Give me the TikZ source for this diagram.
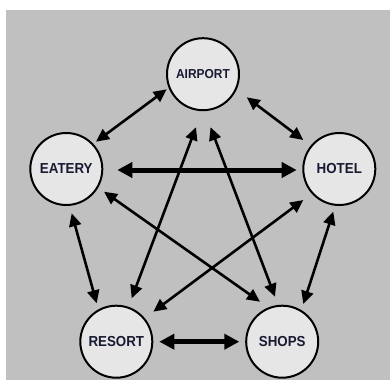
\documentclass[tikz,border=0pt]{standalone}
\usepackage{fontspec}
\setmainfont[FakeStretch=0.92]{Liberation Sans}
\usetikzlibrary{arrows.meta}
\definecolor{panel}{RGB}{192,192,192}
\definecolor{placefill}{RGB}{230,230,230}
\definecolor{labelink}{RGB}{24,26,50}
\begin{document}
\begin{tikzpicture}[x=1pt,y=1pt,
  place/.style={circle,draw=black,line width=2pt,fill=placefill,
    minimum size=72pt,inner sep=0pt,text=labelink,
    font=\fontsize{14.5}{16}\selectfont\bfseries},
  link/.style={line width=2.6pt,
    {Triangle[length=13pt,width=12pt]}-{Triangle[length=13pt,width=12pt]}},
  mainlink/.style={line width=5pt,
    {Triangle[length=15pt,width=15pt]}-{Triangle[length=15pt,width=15pt]}}]
  \useasboundingbox (0,0) rectangle (390,-385);
  \fill[panel] (6,-10) rectangle (390,-380);

  % the five places
  \node[place,font=\fontsize{13}{15}\selectfont\bfseries] (airport) at (203,-74.2) {AIRPORT};
  \node[place] (eatery) at (66.3,-169) {EATERY};
  \node[place] (hotel)  at (339.3,-169) {HOTEL};
  \node[place] (resort) at (116.3,-341.7) {RESORT};
  \node[place] (shops)  at (282.2,-341.7) {SHOPS};

  % outer ring
  \draw[link] ([shift={(29.7,27.3)}]eatery.center) -- ([shift={(-36.3,-15.1)}]airport.center);
  \draw[link] ([shift={(43.7,-23.1)}]airport.center) -- ([shift={(-36,29)}]hotel.center);
  \draw[link] ([shift={(5.4,-44.3)}]eatery.center) -- ([shift={(-19.6,38.4)}]resort.center);
  \draw[link] ([shift={(-6,-42.7)}]hotel.center) -- ([shift={(21.1,37.7)}]shops.center);
  \draw[mainlink] ([shift={(51,-1)}]eatery.center) -- ([shift={(-42.6,-1)}]hotel.center);
  \draw[mainlink] ([shift={(43,0)}]resort.center) -- ([shift={(-42.9,0)}]shops.center);

  % inner star
  \draw[link] ([shift={(-7,-53)}]airport.center) -- ([shift={(15.4,43.4)}]resort.center);
  \draw[link] ([shift={(7.5,-53)}]airport.center) -- ([shift={(-7.2,45)}]shops.center);
  \draw[link] ([shift={(37.7,-22.7)}]eatery.center) -- ([shift={(-22.2,40)}]shops.center);
  \draw[link] ([shift={(-36,-31)}]hotel.center) -- ([shift={(37,30)}]resort.center);
\end{tikzpicture}
\end{document}
